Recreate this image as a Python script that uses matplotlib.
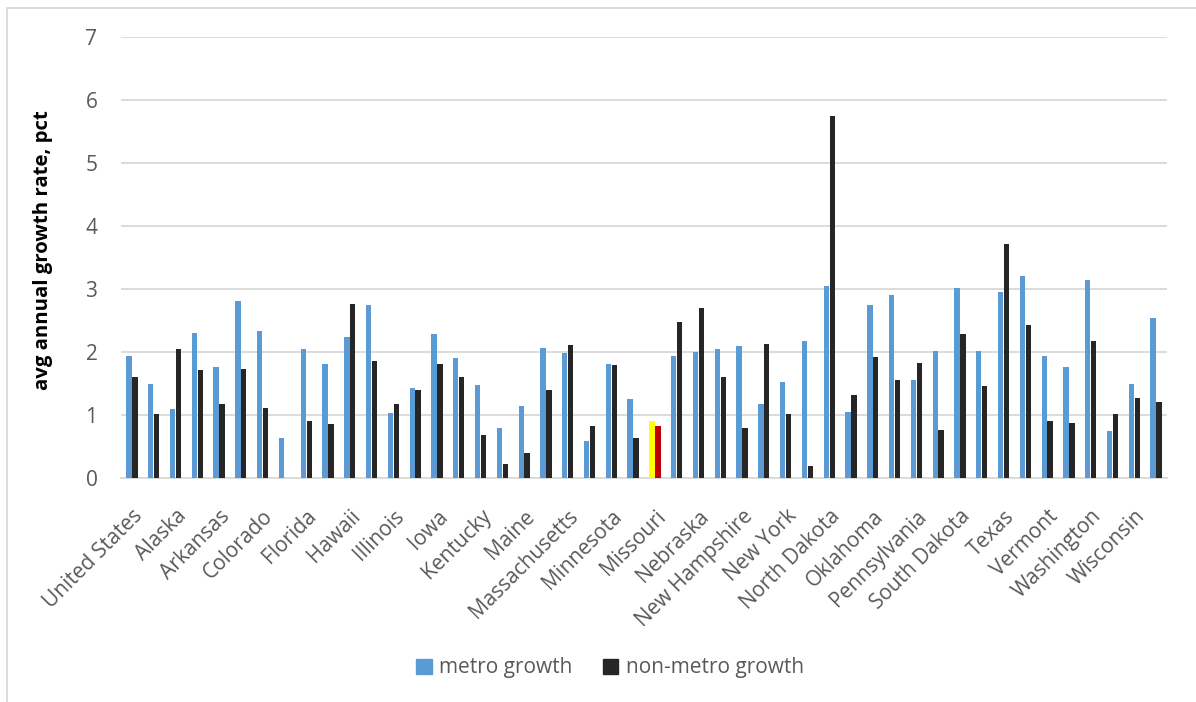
import numpy as np
import matplotlib
matplotlib.use("Agg")
import matplotlib.pyplot as plt
import matplotlib.transforms as mtransforms
from matplotlib.patches import Patch, Rectangle

states = ['United States', 'Alabama', 'Alaska', 'Arizona', 'Arkansas', 'California',
          'Colorado', 'Delaware', 'Florida', 'Georgia', 'Hawaii', 'Idaho', 'Illinois',
          'Indiana', 'Iowa', 'Kansas', 'Kentucky', 'Louisiana', 'Maine', 'Maryland',
          'Massachusetts', 'Michigan', 'Minnesota', 'Mississippi', 'Missouri', 'Montana',
          'Nebraska', 'Nevada', 'New Hampshire', 'New Mexico', 'New York',
          'North Carolina', 'North Dakota', 'Ohio', 'Oklahoma', 'Oregon', 'Pennsylvania',
          'South Carolina', 'South Dakota', 'Tennessee', 'Texas', 'Utah', 'Vermont',
          'Virginia', 'Washington', 'West Virginia', 'Wisconsin', 'Wyoming']

metro = [1.94, 1.49, 1.10, 2.30, 1.76, 2.81, 2.33, 0.64, 2.04, 1.81, 2.24, 2.75,
         1.03, 1.43, 2.28, 1.90, 1.48, 0.80, 1.14, 2.07, 1.98, 0.58, 1.81, 1.26,
         0.91, 1.93, 2.00, 2.05, 2.10, 1.17, 1.52, 2.18, 3.05, 1.05, 2.75, 2.91,
         1.55, 2.02, 3.01, 2.02, 2.96, 3.21, 1.94, 1.76, 3.14, 0.74, 1.49, 2.54]

nonmetro = [1.61, 1.02, 2.04, 1.72, 1.17, 1.73, 1.11, np.nan, 0.91, 0.86, 2.76, 1.86,
            1.18, 1.40, 1.81, 1.61, 0.68, 0.22, 0.40, 1.40, 2.11, 0.83, 1.79, 0.64,
            0.83, 2.47, 2.70, 1.60, 0.80, 2.13, 1.02, 0.19, 5.74, 1.32, 1.92, 1.56,
            1.83, 0.76, 2.28, 1.46, 3.72, 2.43, 0.91, 0.87, 2.18, 1.01, 1.27, 1.21]

highlight = 'Missouri'

blue = '#5B9BD5'
dark = '#262626'
grey_text = '#595959'

plt.rcParams['font.family'] = ['Open Sans', 'DejaVu Sans']

fig = plt.figure(figsize=(11.96, 7.02), dpi=100)
ax = fig.add_axes([121 / 1196, 1 - 478 / 702, (1167 - 121) / 1196, (478 - 37) / 702])

x = np.arange(len(states))
w = 0.245
off = 0.135
mcolors = [('#FFFF00' if s == highlight else blue) for s in states]
ncolors = [('#C00000' if s == highlight else dark) for s in states]
ax.bar(x - off, metro, w, color=mcolors, zorder=3)
ax.bar(x + off, nonmetro, w, color=ncolors, zorder=3)

ax.set_xlim(-0.5, len(states) - 0.5)
ax.set_ylim(0, 7)
ax.set_yticks(range(0, 8))
ax.yaxis.grid(True, color='#d9d9d9', linewidth=1.3, zorder=0)
ax.set_axisbelow(True)
for side in ['top', 'right', 'left']:
    ax.spines[side].set_visible(False)
ax.spines['bottom'].set_color('#d9d9d9')
ax.spines['bottom'].set_linewidth(1.3)

# only every other state gets a label, like the original
ax.set_xticks(x[::2])
ax.set_xticklabels(states[::2], rotation=45, ha='right', va='top',
                   rotation_mode='anchor', fontsize=15, color=grey_text)
shift = mtransforms.ScaledTranslation(-12 / 100, 0, fig.dpi_scale_trans)
for lab in ax.get_xticklabels():
    lab.set_transform(lab.get_transform() + shift)
ax.tick_params(axis='x', length=0, pad=20)
ax.tick_params(axis='y', length=0, pad=17, labelsize=15, labelcolor=grey_text)

ax.set_ylabel('avg annual growth rate, pct', fontsize=14.7, fontweight='bold',
              color='black')
ax.yaxis.set_label_coords(-0.065, 0.517)

handles = [Patch(color=blue, label='metro growth'),
           Patch(color=dark, label='non-metro growth')]
fig.legend(handles=handles, loc='center', bbox_to_anchor=(610 / 1196, 1 - 668 / 702),
           ncol=2, frameon=False, fontsize=15, labelcolor=grey_text,
           handlelength=0.75, handleheight=0.75, handletextpad=0.35, columnspacing=1.45)

# outer chart border
fig.patches.append(Rectangle((7 / 1196, -0.05), 1.2, 1 - 8 / 702 + 0.05,
                             transform=fig.transFigure, fill=False,
                             edgecolor='#d9d9d9', linewidth=1.3))

fig.savefig('out.png', dpi=100)
